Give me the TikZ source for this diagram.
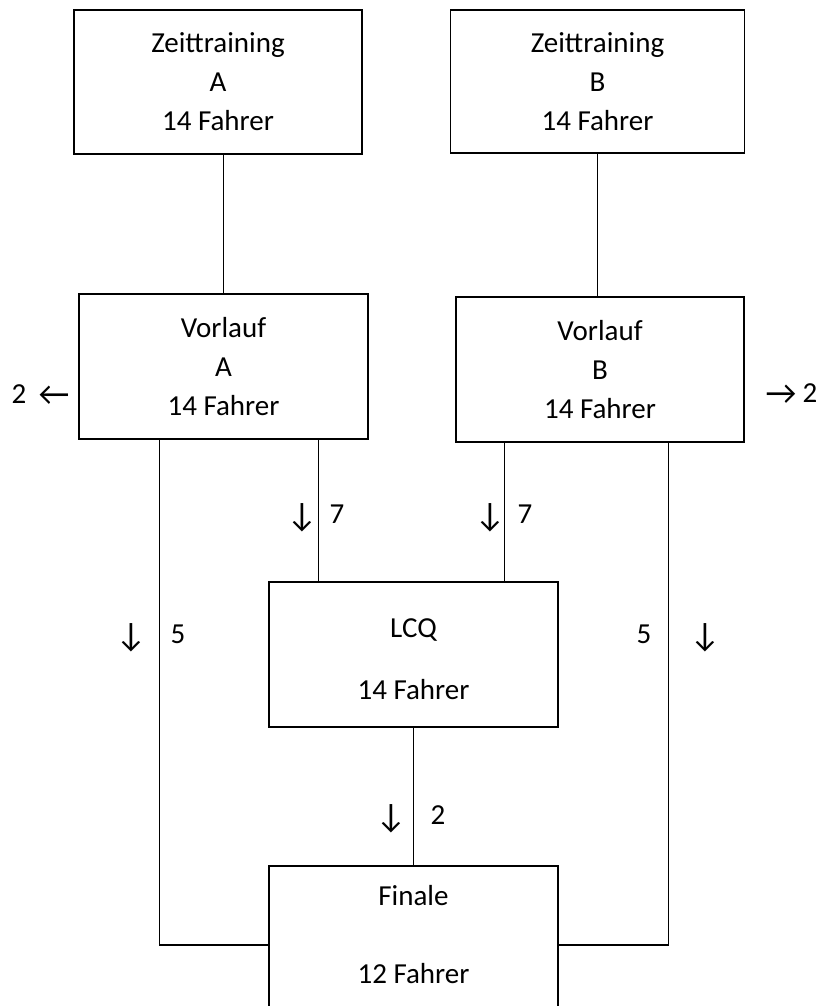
\documentclass[tikz,border=0pt]{standalone}
\usepackage{fontspec}
\setmainfont{Carlito}
\usetikzlibrary{calc}
\begin{document}
\begin{tikzpicture}[x=1pt,y=-1pt,
  box/.style={draw, line width=1.1pt, align=center, inner sep=0pt, font=\fontsize{29}{39}\selectfont},
  lbl/.style={anchor=base, inner sep=0pt, font=\fontsize{29}{33}\selectfont},
  arr/.style={anchor=base, inner sep=0pt, font=\fontsize{34}{36}\selectfont},
  conn/.style={line width=1.1pt}]
\useasboundingbox (0,0) rectangle (821,1006);
\node[box, minimum width=288pt, minimum height=144pt] (ZA) at (218,82) {Zeittraining\\A\\14 Fahrer};
\node[box, minimum width=294pt, minimum height=143pt] (ZB) at (597.5,81.5) {Zeittraining\\B\\14 Fahrer};
\node[box, minimum width=289pt, minimum height=145pt] (VA) at (223.5,366.5) {Vorlauf\\A\\14 Fahrer};
\node[box, minimum width=288pt, minimum height=145pt] (VB) at (600,369.5) {Vorlauf\\B\\14 Fahrer};
\node[box, minimum width=289pt, minimum height=145pt] (LCQ) at (413.5,654.5) {\rule{0pt}{29pt}LCQ\\[23pt]14 Fahrer};
\node[box, minimum width=289pt, minimum height=158pt, text depth=22pt] (Fin) at (413.5,945) {Finale\\[39pt]12 Fahrer};

\coordinate (va1) at ($(VA.south west)+(81,0)$);
\coordinate (va2) at ($(VA.south west)+(240,0)$);
\coordinate (vb1) at ($(VB.south west)+(49,0)$);
\coordinate (vb2) at ($(VB.south west)+(213,0)$);

\draw[conn] (VA.north) -- (VA.north |- ZA.south);
\draw[conn] (ZB.south) -- (ZB.south |- VB.north);
\draw[conn] (va1) |- (Fin.west);
\draw[conn] (va2) -- (va2 |- LCQ.north);
\draw[conn] (vb1) -- (vb1 |- LCQ.north);
\draw[conn] (vb2) |- (Fin.east);
\draw[conn] (LCQ.south) -- (LCQ.south |- Fin.north);

\node[lbl] (la2) at (19,403) {2};
\node[arr] (laa) at (54,405) {←};
\node[arr] (lba) at (781,404) {→};
\node[lbl] (lb2) at (810,402) {2};
\node[arr] (d7a) at (302,526) {↓};
\node[lbl] (n7a) at (337,523) {7};
\node[arr] (d7b) at (490,526) {↓};
\node[lbl] (n7b) at (525,523) {7};
\node[arr] (d5a) at (131,646) {↓};
\node[lbl] (n5a) at (178,643) {5};
\node[lbl] (n5b) at (644,643) {5};
\node[arr] (d5b) at (705,646) {↓};
\node[arr] (d2) at (391,827) {↓};
\node[lbl] (n2) at (438,824) {2};
\end{tikzpicture}
\end{document}
